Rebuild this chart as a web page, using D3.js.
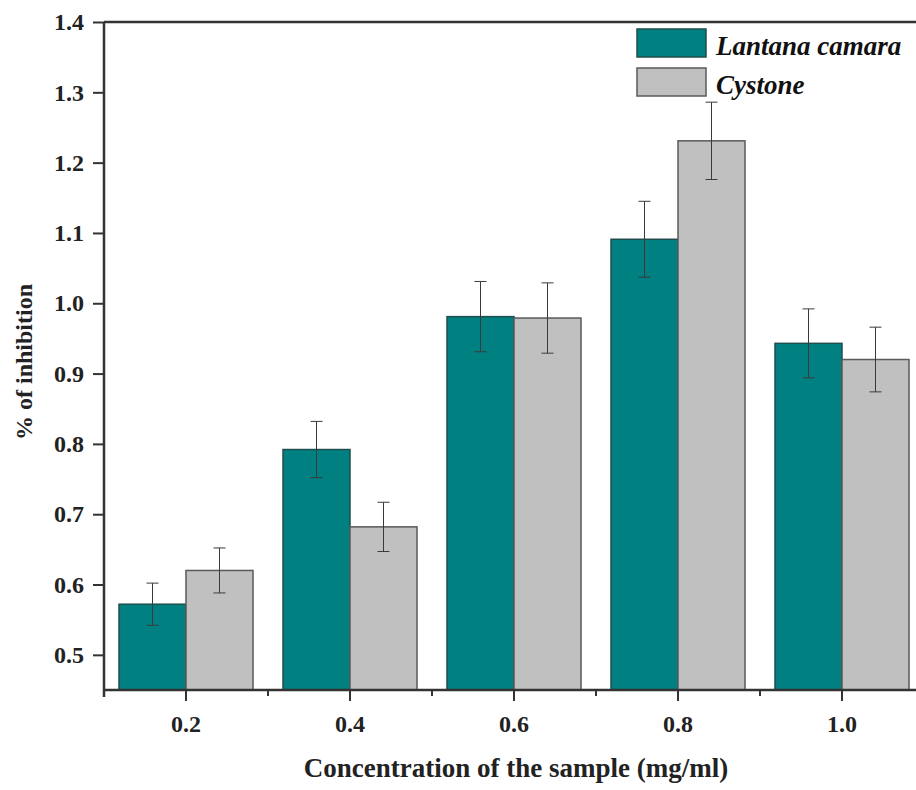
<!DOCTYPE html>
<html>
<head>
<meta charset="utf-8">
<script src="https://cdn.jsdelivr.net/npm/d3@7"></script>
<style>
  html, body { margin: 0; padding: 0; background: #fff; }
  svg { display: block; }
  text { font-family: "Liberation Serif", "Times New Roman", serif; font-weight: bold; }
</style>
</head>
<body>
<svg id="chart" width="916" height="790"></svg>
<script>
// ---- data ----
const categories = ["0.2", "0.4", "0.6", "0.8", "1.0"];
const seriesNames = ["Lantana camara", "Cystone"];
const lantanaValues = [0.572, 0.792, 0.981, 1.091, 0.943];
const lantanaErrors = [0.030, 0.040, 0.050, 0.054, 0.049];
const cystoneValues = [0.620, 0.682, 0.979, 1.231, 0.920];
const cystoneErrors = [0.032, 0.035, 0.050, 0.055, 0.046];
const yTicks = [0.5, 0.6, 0.7, 0.8, 0.9, 1.0, 1.1, 1.2, 1.3, 1.4];
const xTitle = "Concentration of the sample (mg/ml)";
const yTitle = "% of inhibition";

const colors = { "Lantana camara": "#008080", "Cystone": "#c0c0c0" };
const strokes = { "Lantana camara": "#1f4d4d", "Cystone": "#5a5a5a" };

const svg = d3.select("#chart");
const mLeft = 104, mRight = 924, mTop = 22, mBottom = 690;

const x = d3.scaleBand().domain(categories).range([mLeft, mRight]).padding(0);
const x1 = d3.scaleBand().domain(seriesNames).range([-67, 67]).padding(0);
const y = d3.scaleLinear().domain([0.45, 1.4]).range([mBottom, mTop]);

const rows = categories.map((c, i) => ({
  cat: c,
  items: [
    { name: seriesNames[0], v: lantanaValues[i], e: lantanaErrors[i] },
    { name: seriesNames[1], v: cystoneValues[i], e: cystoneErrors[i] }
  ]
}));

// bars
const groups = svg.append("g").selectAll("g").data(rows).join("g")
  .attr("transform", d => `translate(${x(d.cat) + x.bandwidth() / 2},0)`);

groups.selectAll("rect").data(d => d.items).join("rect")
  .attr("x", d => x1(d.name))
  .attr("y", d => y(d.v))
  .attr("width", x1.bandwidth())
  .attr("height", d => y(0.45) - y(d.v))
  .attr("fill", d => colors[d.name])
  .attr("stroke", d => strokes[d.name])
  .attr("stroke-width", 1.5);

// error bars
const eb = groups.selectAll("g.eb").data(d => d.items).join("g").attr("class", "eb")
  .attr("stroke", "#3a3a3a").attr("stroke-width", 1);
eb.append("line")
  .attr("x1", d => x1(d.name) + x1.bandwidth() / 2)
  .attr("x2", d => x1(d.name) + x1.bandwidth() / 2)
  .attr("y1", d => y(d.v + d.e)).attr("y2", d => y(d.v - d.e));
eb.append("line")
  .attr("x1", d => x1(d.name) + x1.bandwidth() / 2 - 6)
  .attr("x2", d => x1(d.name) + x1.bandwidth() / 2 + 6)
  .attr("y1", d => y(d.v + d.e)).attr("y2", d => y(d.v + d.e));
eb.append("line")
  .attr("x1", d => x1(d.name) + x1.bandwidth() / 2 - 6)
  .attr("x2", d => x1(d.name) + x1.bandwidth() / 2 + 6)
  .attr("y1", d => y(d.v - d.e)).attr("y2", d => y(d.v - d.e));

// top frame line
svg.append("line").attr("x1", mLeft).attr("x2", mRight).attr("y1", mTop).attr("y2", mTop)
  .attr("stroke", "#333").attr("stroke-width", 2.5);

// y axis
const yAxis = svg.append("g").attr("transform", `translate(${mLeft},0)`)
  .call(d3.axisLeft(y).tickValues(yTicks).tickFormat(d3.format(".1f")).tickSize(11).tickPadding(9));
yAxis.select(".domain").attr("stroke", "#333").attr("stroke-width", 2.5)
  .attr("d", `M0,${mTop}V${mBottom + 7}`);
yAxis.selectAll(".tick line").attr("stroke", "#333").attr("stroke-width", 2);
yAxis.selectAll(".tick text").attr("font-size", 24).attr("fill", "#222")
  .style("font-family", "'Liberation Serif', serif").style("font-weight", "bold");

// x axis
const xAxis = svg.append("g").attr("transform", `translate(0,${mBottom})`)
  .call(d3.axisBottom(x).tickSize(11).tickPadding(14));
xAxis.select(".domain").attr("stroke", "#333").attr("stroke-width", 2.5)
  .attr("d", `M${mLeft},0H${mRight}`);
xAxis.selectAll(".tick line").attr("stroke", "#333").attr("stroke-width", 2);
xAxis.selectAll(".tick text").attr("font-size", 24).attr("fill", "#222")
  .style("font-family", "'Liberation Serif', serif").style("font-weight", "bold");
// minor ticks at band boundaries
xAxis.selectAll("line.minor").data(categories.slice(1)).join("line").attr("class", "minor")
  .attr("x1", d => x(d)).attr("x2", d => x(d)).attr("y1", 0).attr("y2", 6)
  .attr("stroke", "#333").attr("stroke-width", 2);

// axis titles
svg.append("text").attr("x", 516).attr("y", 777).attr("text-anchor", "middle")
  .attr("font-size", 27).attr("fill", "#222").text(xTitle);
svg.append("text").attr("transform", `translate(32,362) rotate(-90)`)
  .attr("text-anchor", "middle").attr("font-size", 24).attr("fill", "#222").text(yTitle);

// legend
const legend = svg.append("g");
seriesNames.forEach((name, i) => {
  const gy = 29 + i * 39;
  legend.append("rect").attr("x", 637).attr("y", gy).attr("width", 69).attr("height", 28)
    .attr("fill", colors[name]).attr("stroke", strokes[name]).attr("stroke-width", 1.5);
  legend.append("text").attr("x", 716).attr("y", gy + 26)
    .attr("font-size", 27).attr("font-style", "italic").attr("fill", "#111").text(name);
});
</script>
</body>
</html>
